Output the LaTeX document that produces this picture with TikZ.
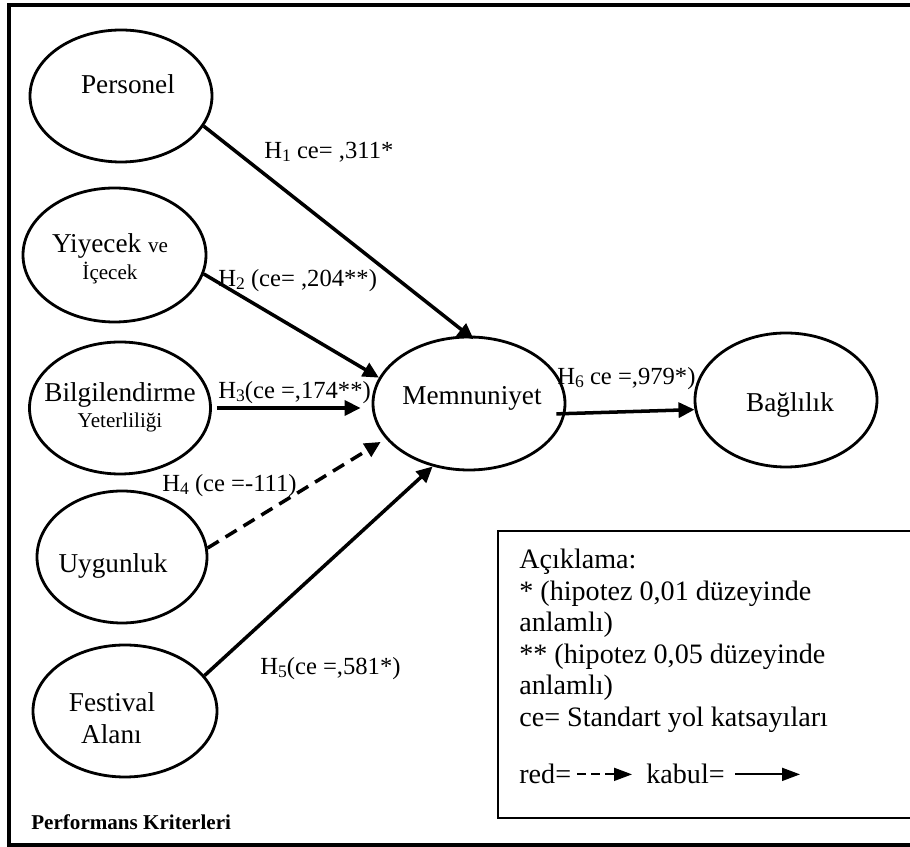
\documentclass[tikz,border=0pt]{standalone}
\usepackage{fontspec}
\setmainfont{Liberation Serif}
\usepackage{tikz}
\usetikzlibrary{arrows.meta,positioning,shapes.geometric}
\tikzset{
  latent/.style={ellipse,draw,line width=1.6pt,inner sep=0pt},
  term/.style={inner sep=0pt,anchor=base,font=\fontsize{15.5}{18}\selectfont},
  termsmall/.style={inner sep=0pt,anchor=base,font=\fontsize{12}{14}\selectfont},
  coef/.style={inner sep=0pt,anchor=base west,font=\fontsize{14}{16}\selectfont},
  effect/.style={line width=2pt,-{Triangle[length=0.32cm,width=0.3cm]}},
  rejected/.style={effect,dash pattern=on 0.26cm off 0.16cm},
  legtext/.style={inner sep=0pt,font=\fontsize{16}{17.9}\selectfont}
}
\tikzstyle{legarrow} = [line width=1pt,-{Triangle[length=0.36cm,width=0.26cm]}]
\newcommand{\hyp}[1]{H\raisebox{-0.25ex}{\fontsize{10}{10}\selectfont #1}}
\newcommand{\smalltext}{\fontsize{12}{14}\selectfont}

\begin{document}
\begin{tikzpicture}
  \useasboundingbox (0,0) rectangle (18.2,16.94);
  \clip (0,0) rectangle (18.2,16.94);
  % outer frame
  \draw[line width=2.2pt] (18.5,16.84) -- (0.18,16.84) -- (0.18,0.04) -- (18.5,0.04);

  % constructs
  \node[latent,minimum width=3.64cm,minimum height=2.64cm] (pers) at (2.42,15.02) {};
  \node[latent,minimum width=3.66cm,minimum height=2.68cm] (yiy) at (2.29,11.84) {};
  \node[latent,minimum width=3.62cm,minimum height=2.64cm] (bilg) at (2.40,8.78) {};
  \node[latent,minimum width=3.40cm,minimum height=2.64cm] (uyg) at (2.44,5.80) {};
  \node[latent,minimum width=3.68cm,minimum height=2.64cm] (fest) at (2.50,2.72) {};
  \node[latent,minimum width=3.84cm,minimum height=2.66cm] (memn) at (9.38,8.87) {};
  \node[latent,minimum width=3.64cm,minimum height=2.68cm] (bag) at (15.72,8.94) {};

  \node[term] (perstxt) at (2.56,15.06) {Personel};
  \node[term] (yiytxt) at (2.20,11.88) {Yiyecek {\smalltext ve}};
  \node[termsmall] (yiytxtb) at (2.20,11.34) {İçecek};
  \node[term] (bilgtxt) at (2.40,8.90) {Bilgilendirme};
  \node[termsmall] (bilgtxtb) at (2.40,8.38) {Yeterliliği};
  \node[term] (uygtxt) at (2.26,5.48) {Uygunluk};
  \node[term] (festtxt) at (2.24,2.70) {Festival};
  \node[term] (festtxtb) at (2.23,2.06) {Alanı};
  \node[term] (memntxt) at (9.44,8.84) {Memnuniyet};
  \node[term] (bagtxt) at (15.80,8.70) {Bağlılık};

  % paths
  \draw[effect,shorten >=-0.12cm] (pers.-20) -- (memn.north);
  \draw[effect] (yiy.-12) -- (memn.164);
  \draw[effect,shorten <=0.1cm,shorten >=0.22cm] (bilg.east) -- (bilg.east -| memn.west);
  \draw[rejected,shorten >=0.12cm] (uyg.6) -- (memn.203);
  \draw[effect] (fest.24) -- (memn.240);
  \draw[effect,shorten <=-0.18cm] (memn.-6) -- (bag.186);

  \node[coef] (h1) at (5.28,13.76) {\hyp{1} ce= ,311*};
  \node[coef] (h2) at (4.36,11.20) {\hyp{2} (ce= ,204**)};
  \node[coef] (h3) at (4.36,8.96) {\hyp{3}(ce =,174**)};
  \node[coef] (h4) at (3.24,7.10) {\hyp{4} (ce =-111)};
  \node[coef] (h5) at (5.20,3.44) {\hyp{5}(ce =,581*)};
  \node[coef] (h6) at (11.14,9.24) {\hyp{6} ce =,979*)};

  % legend
  \draw[line width=1.1pt] (18.6,6.32) -- (9.96,6.32) -- (9.96,0.58) -- (18.6,0.58);
  \node[legtext,anchor=north west,align=left] (expl) at (10.38,5.96)
    {Açıklama:\\* (hipotez 0,01 düzeyinde\\anlamlı)\\** (hipotez 0,05 düzeyinde\\anlamlı)\\ce= Standart yol katsayıları};
  \node[legtext,anchor=base west] (red) at (10.38,1.26) {red=};
  \node[legtext,anchor=base west] (kabul) at (12.92,1.26) {kabul=};
  \coordinate[right=1.5cm of kabul] (kabend);
  \draw[legarrow,dash pattern=on 0.18cm off 0.1cm,shorten <=0.12cm,shorten >=0.28cm] (red.east) -- (kabul.west);
  \draw[legarrow,shorten <=0.2cm] (kabul.east) -- (kabend);

  \node[inner sep=0pt,anchor=base west,font=\bfseries\fontsize{12}{14}\selectfont] (crit) at (0.62,0.34) {Performans Kriterleri};
\end{tikzpicture}
\end{document}
